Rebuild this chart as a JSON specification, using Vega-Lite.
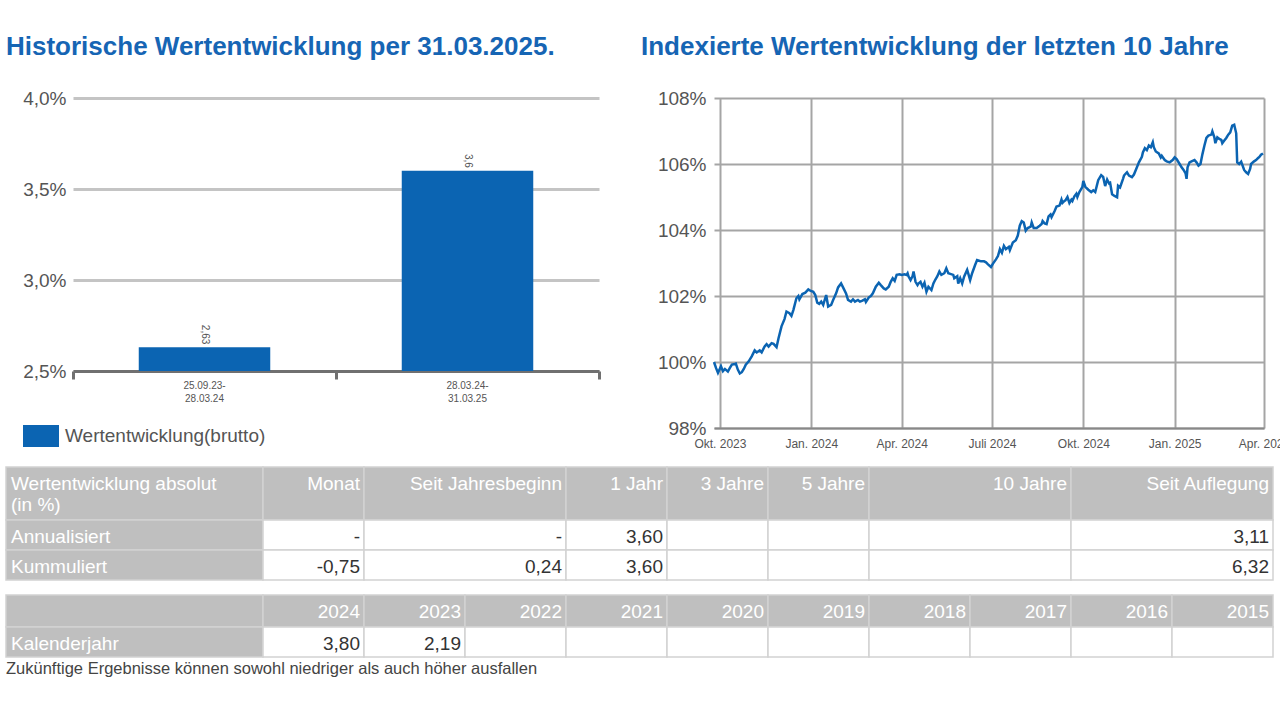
{
  "$schema": "https://vega.github.io/schema/vega-lite/v6.json",
  "background": "white",
  "padding": {"left": 5, "top": 34, "right": 0, "bottom": 0},
  "spacing": 17,
  "config": {
    "view": {"stroke": null},
    "font": "Liberation Sans",
    "locale": {
      "number": {"decimal": ",", "thousands": ".", "grouping": [3], "currency": ["", " €"]},
      "time": {
        "dateTime": "%A, der %e. %B %Y, %X", "date": "%d.%m.%Y", "time": "%H:%M:%S", "periods": ["AM", "PM"],
        "days": ["Sonntag", "Montag", "Dienstag", "Mittwoch", "Donnerstag", "Freitag", "Samstag"],
        "shortDays": ["So", "Mo", "Di", "Mi", "Do", "Fr", "Sa"],
        "months": ["Januar", "Februar", "März", "April", "Mai", "Juni", "Juli", "August", "September", "Oktober", "November", "Dezember"],
        "shortMonths": ["Jan.", "Feb.", "März", "Apr.", "Mai", "Juni", "Juli", "Aug.", "Sep.", "Okt.", "Nov.", "Dez."]
      }
    }
  },
  "vconcat": [
    {
      "spacing": 40,
      "hconcat": [
        {
          "width": 526,
          "height": 273,
          "title": {"text": "Historische Wertentwicklung per 31.03.2025.", "anchor": "start", "frame": "group", "dx": -67, "fontSize": 26, "fontWeight": "bold", "color": "#1665b4", "baseline": "alphabetic", "offset": 8},
          "data": {"values": [
            {"zeitraum": "25.09.23-28.03.24", "wert": 2.63},
            {"zeitraum": "28.03.24-31.03.25", "wert": 3.6}
          ]},
          "layer": [
            {
              "mark": {"type": "bar", "width": {"band": 0.5}},
              "encoding": {
                "x": {"field": "zeitraum", "type": "nominal", "sort": null,
                  "scale": {"paddingInner": 0, "paddingOuter": 0},
                  "axis": {"title": null, "bandPosition": 1, "tickExtra": true, "tickSize": 8, "tickWidth": 3, "tickColor": "#707070", "domainColor": "#707070", "domainWidth": 3, "labelAngle": 0, "labelFontSize": 10, "labelColor": "#555555", "labelPadding": 1, "labelLineHeight": 13, "labelExpr": "[slice(datum.label,0,9), slice(datum.label,9)]", "grid": false}},
                "y": {"field": "wert", "type": "quantitative",
                  "scale": {"domain": [2.5, 4], "zero": false, "nice": false},
                  "axis": {"title": null, "values": [2.5, 3, 3.5, 4], "format": ".1f", "labelExpr": "datum.label + '%'", "domain": false, "ticks": false, "grid": true, "gridColor": "#c4c4c4", "gridWidth": 3, "labelFontSize": 19, "labelColor": "#555555", "labelPadding": 7}},
                "y2": {"datum": 2.5},
                "color": {"datum": "Wertentwicklung(brutto)", "scale": {"range": ["#0b64b2"]},
                  "legend": {"orient": "none", "legendX": -50, "legendY": 320, "title": null, "padding": 0, "symbolType": "M-1,-0.61H1V0.61H-1Z", "symbolSize": 1296, "symbolStrokeWidth": 0, "symbolOpacity": 1, "labelFontSize": 19, "labelColor": "#555555", "labelOffset": 6, "labelLimit": 400}}
              }
            },
            {
              "mark": {"type": "text", "angle": 90, "align": "right", "baseline": "middle", "dx": -3, "fontSize": 10, "color": "#555555"},
              "encoding": {
                "x": {"field": "zeitraum", "type": "nominal", "sort": null},
                "y": {"field": "wert", "type": "quantitative"},
                "text": {"field": "wert", "type": "quantitative", "format": "~g"}
              }
            }
          ]
        },
        {
          "width": 550,
          "height": 330,
          "title": {"text": "Indexierte Wertentwicklung der letzten 10 Jahre", "anchor": "start", "frame": "group", "dx": -73, "fontSize": 26, "fontWeight": "bold", "color": "#1665b4", "baseline": "alphabetic", "offset": 8},
          "data": {"values": [
            {"tag": "2023-09-25", "wert": 100.00}, {"tag": "2023-09-27", "wert": 99.82}, {"tag": "2023-09-29", "wert": 99.67},
            {"tag": "2023-10-02", "wert": 99.87}, {"tag": "2023-10-04", "wert": 99.72}, {"tag": "2023-10-06", "wert": 99.79},
            {"tag": "2023-10-09", "wert": 99.71}, {"tag": "2023-10-11", "wert": 99.82}, {"tag": "2023-10-13", "wert": 99.92},
            {"tag": "2023-10-16", "wert": 99.94}, {"tag": "2023-10-17", "wert": 99.95}, {"tag": "2023-10-19", "wert": 99.77},
            {"tag": "2023-10-21", "wert": 99.65}, {"tag": "2023-10-23", "wert": 99.69}, {"tag": "2023-10-25", "wert": 99.79},
            {"tag": "2023-10-27", "wert": 99.92}, {"tag": "2023-10-30", "wert": 100.02}, {"tag": "2023-11-02", "wert": 100.17},
            {"tag": "2023-11-05", "wert": 100.35}, {"tag": "2023-11-07", "wert": 100.29}, {"tag": "2023-11-10", "wert": 100.35},
            {"tag": "2023-11-12", "wert": 100.29}, {"tag": "2023-11-15", "wert": 100.47}, {"tag": "2023-11-17", "wert": 100.54},
            {"tag": "2023-11-19", "wert": 100.47}, {"tag": "2023-11-22", "wert": 100.57}, {"tag": "2023-11-24", "wert": 100.55},
            {"tag": "2023-11-27", "wert": 100.45}, {"tag": "2023-11-29", "wert": 100.72}, {"tag": "2023-12-02", "wert": 101.08},
            {"tag": "2023-12-05", "wert": 101.30}, {"tag": "2023-12-07", "wert": 101.53}, {"tag": "2023-12-10", "wert": 101.48},
            {"tag": "2023-12-12", "wert": 101.40}, {"tag": "2023-12-14", "wert": 101.58}, {"tag": "2023-12-17", "wert": 101.93},
            {"tag": "2023-12-19", "wert": 102.00}, {"tag": "2023-12-20", "wert": 101.90}, {"tag": "2023-12-23", "wert": 102.06},
            {"tag": "2023-12-26", "wert": 102.10}, {"tag": "2023-12-29", "wert": 102.20}, {"tag": "2023-12-31", "wert": 102.16},
            {"tag": "2024-01-03", "wert": 102.13}, {"tag": "2024-01-05", "wert": 102.03}, {"tag": "2024-01-07", "wert": 101.80},
            {"tag": "2024-01-09", "wert": 101.76}, {"tag": "2024-01-11", "wert": 101.83}, {"tag": "2024-01-13", "wert": 101.73},
            {"tag": "2024-01-16", "wert": 102.03}, {"tag": "2024-01-18", "wert": 101.68}, {"tag": "2024-01-21", "wert": 101.73},
            {"tag": "2024-01-23", "wert": 101.88}, {"tag": "2024-01-26", "wert": 102.08}, {"tag": "2024-01-28", "wert": 102.26},
            {"tag": "2024-01-31", "wert": 102.38}, {"tag": "2024-02-02", "wert": 102.26}, {"tag": "2024-02-05", "wert": 102.08},
            {"tag": "2024-02-07", "wert": 101.88}, {"tag": "2024-02-10", "wert": 101.83}, {"tag": "2024-02-12", "wert": 101.90},
            {"tag": "2024-02-14", "wert": 101.83}, {"tag": "2024-02-17", "wert": 101.88}, {"tag": "2024-02-19", "wert": 101.83},
            {"tag": "2024-02-21", "wert": 101.85}, {"tag": "2024-02-24", "wert": 101.90}, {"tag": "2024-02-25", "wert": 101.82},
            {"tag": "2024-02-28", "wert": 101.96}, {"tag": "2024-03-01", "wert": 102.00}, {"tag": "2024-03-03", "wert": 102.08},
            {"tag": "2024-03-06", "wert": 102.28}, {"tag": "2024-03-09", "wert": 102.40}, {"tag": "2024-03-11", "wert": 102.33},
            {"tag": "2024-03-14", "wert": 102.23}, {"tag": "2024-03-16", "wert": 102.20}, {"tag": "2024-03-19", "wert": 102.28},
            {"tag": "2024-03-21", "wert": 102.43}, {"tag": "2024-03-23", "wert": 102.54}, {"tag": "2024-03-25", "wert": 102.46},
            {"tag": "2024-03-27", "wert": 102.64}, {"tag": "2024-03-30", "wert": 102.66}, {"tag": "2024-04-01", "wert": 102.64},
            {"tag": "2024-04-04", "wert": 102.66}, {"tag": "2024-04-06", "wert": 102.64}, {"tag": "2024-04-07", "wert": 102.69},
            {"tag": "2024-04-08", "wert": 102.59}, {"tag": "2024-04-10", "wert": 102.48}, {"tag": "2024-04-12", "wert": 102.60},
            {"tag": "2024-04-13", "wert": 102.74}, {"tag": "2024-04-15", "wert": 102.43}, {"tag": "2024-04-17", "wert": 102.33},
            {"tag": "2024-04-18", "wert": 102.38}, {"tag": "2024-04-20", "wert": 102.43}, {"tag": "2024-04-22", "wert": 102.28},
            {"tag": "2024-04-24", "wert": 102.40}, {"tag": "2024-04-26", "wert": 102.13}, {"tag": "2024-04-28", "wert": 102.28},
            {"tag": "2024-05-01", "wert": 102.18}, {"tag": "2024-05-03", "wert": 102.38}, {"tag": "2024-05-05", "wert": 102.50},
            {"tag": "2024-05-07", "wert": 102.60}, {"tag": "2024-05-09", "wert": 102.74}, {"tag": "2024-05-11", "wert": 102.64},
            {"tag": "2024-05-14", "wert": 102.69}, {"tag": "2024-05-16", "wert": 102.84}, {"tag": "2024-05-18", "wert": 102.69},
            {"tag": "2024-05-20", "wert": 102.67}, {"tag": "2024-05-23", "wert": 102.64}, {"tag": "2024-05-24", "wert": 102.54},
            {"tag": "2024-05-27", "wert": 102.60}, {"tag": "2024-05-28", "wert": 102.38}, {"tag": "2024-05-30", "wert": 102.54},
            {"tag": "2024-06-01", "wert": 102.38}, {"tag": "2024-06-03", "wert": 102.59}, {"tag": "2024-06-06", "wert": 102.79},
            {"tag": "2024-06-07", "wert": 102.69}, {"tag": "2024-06-09", "wert": 102.48}, {"tag": "2024-06-11", "wert": 102.69},
            {"tag": "2024-06-14", "wert": 102.94}, {"tag": "2024-06-16", "wert": 103.09}, {"tag": "2024-06-18", "wert": 103.07},
            {"tag": "2024-06-20", "wert": 103.05}, {"tag": "2024-06-23", "wert": 103.05}, {"tag": "2024-06-25", "wert": 103.02},
            {"tag": "2024-06-27", "wert": 102.96}, {"tag": "2024-06-30", "wert": 102.88}, {"tag": "2024-07-02", "wert": 102.98},
            {"tag": "2024-07-05", "wert": 103.11}, {"tag": "2024-07-07", "wert": 103.21}, {"tag": "2024-07-09", "wert": 103.42},
            {"tag": "2024-07-11", "wert": 103.31}, {"tag": "2024-07-13", "wert": 103.52}, {"tag": "2024-07-15", "wert": 103.42},
            {"tag": "2024-07-18", "wert": 103.49}, {"tag": "2024-07-19", "wert": 103.39}, {"tag": "2024-07-22", "wert": 103.62},
            {"tag": "2024-07-25", "wert": 103.69}, {"tag": "2024-07-27", "wert": 103.83}, {"tag": "2024-07-29", "wert": 104.13},
            {"tag": "2024-07-31", "wert": 104.27}, {"tag": "2024-08-02", "wert": 104.23}, {"tag": "2024-08-04", "wert": 103.98},
            {"tag": "2024-08-06", "wert": 104.06}, {"tag": "2024-08-09", "wert": 104.10}, {"tag": "2024-08-10", "wert": 104.23},
            {"tag": "2024-08-12", "wert": 104.06}, {"tag": "2024-08-15", "wert": 104.06}, {"tag": "2024-08-18", "wert": 104.13},
            {"tag": "2024-08-20", "wert": 104.18}, {"tag": "2024-08-21", "wert": 104.27}, {"tag": "2024-08-23", "wert": 104.20},
            {"tag": "2024-08-25", "wert": 104.18}, {"tag": "2024-08-27", "wert": 104.41}, {"tag": "2024-08-29", "wert": 104.47},
            {"tag": "2024-08-30", "wert": 104.39}, {"tag": "2024-09-02", "wert": 104.57}, {"tag": "2024-09-04", "wert": 104.71},
            {"tag": "2024-09-07", "wert": 104.74}, {"tag": "2024-09-09", "wert": 104.92}, {"tag": "2024-09-10", "wert": 104.82},
            {"tag": "2024-09-12", "wert": 104.88}, {"tag": "2024-09-13", "wert": 104.90}, {"tag": "2024-09-15", "wert": 105.00},
            {"tag": "2024-09-17", "wert": 104.82}, {"tag": "2024-09-19", "wert": 104.92}, {"tag": "2024-09-20", "wert": 104.88},
            {"tag": "2024-09-22", "wert": 105.02}, {"tag": "2024-09-24", "wert": 105.10}, {"tag": "2024-09-25", "wert": 105.00},
            {"tag": "2024-09-27", "wert": 105.15}, {"tag": "2024-09-30", "wert": 105.30}, {"tag": "2024-10-01", "wert": 105.49},
            {"tag": "2024-10-03", "wert": 105.31}, {"tag": "2024-10-06", "wert": 105.22}, {"tag": "2024-10-09", "wert": 105.15},
            {"tag": "2024-10-11", "wert": 105.20}, {"tag": "2024-10-13", "wert": 105.15}, {"tag": "2024-10-16", "wert": 105.51},
            {"tag": "2024-10-19", "wert": 105.66}, {"tag": "2024-10-21", "wert": 105.61}, {"tag": "2024-10-23", "wert": 105.33},
            {"tag": "2024-10-25", "wert": 105.53}, {"tag": "2024-10-27", "wert": 105.41}, {"tag": "2024-10-28", "wert": 105.43},
            {"tag": "2024-10-30", "wert": 105.08}, {"tag": "2024-11-01", "wert": 105.04}, {"tag": "2024-11-04", "wert": 104.99},
            {"tag": "2024-11-05", "wert": 105.34}, {"tag": "2024-11-07", "wert": 105.29}, {"tag": "2024-11-10", "wert": 105.55},
            {"tag": "2024-11-11", "wert": 105.65}, {"tag": "2024-11-13", "wert": 105.72}, {"tag": "2024-11-14", "wert": 105.75},
            {"tag": "2024-11-16", "wert": 105.65}, {"tag": "2024-11-19", "wert": 105.60}, {"tag": "2024-11-21", "wert": 105.68},
            {"tag": "2024-11-24", "wert": 105.90}, {"tag": "2024-11-26", "wert": 106.05}, {"tag": "2024-11-29", "wert": 106.22},
            {"tag": "2024-11-30", "wert": 106.35}, {"tag": "2024-12-02", "wert": 106.48}, {"tag": "2024-12-04", "wert": 106.42},
            {"tag": "2024-12-06", "wert": 106.56}, {"tag": "2024-12-08", "wert": 106.51}, {"tag": "2024-12-10", "wert": 106.66},
            {"tag": "2024-12-11", "wert": 106.51}, {"tag": "2024-12-13", "wert": 106.38}, {"tag": "2024-12-16", "wert": 106.32},
            {"tag": "2024-12-18", "wert": 106.20}, {"tag": "2024-12-19", "wert": 106.25}, {"tag": "2024-12-22", "wert": 106.12},
            {"tag": "2024-12-24", "wert": 106.08}, {"tag": "2024-12-27", "wert": 106.05}, {"tag": "2024-12-30", "wert": 106.12},
            {"tag": "2025-01-01", "wert": 106.20}, {"tag": "2025-01-03", "wert": 106.15}, {"tag": "2025-01-06", "wert": 106.00},
            {"tag": "2025-01-08", "wert": 105.90}, {"tag": "2025-01-10", "wert": 105.82}, {"tag": "2025-01-12", "wert": 105.72},
            {"tag": "2025-01-13", "wert": 105.55}, {"tag": "2025-01-14", "wert": 105.90}, {"tag": "2025-01-16", "wert": 106.05},
            {"tag": "2025-01-18", "wert": 106.08}, {"tag": "2025-01-21", "wert": 106.12}, {"tag": "2025-01-23", "wert": 106.05},
            {"tag": "2025-01-25", "wert": 105.95}, {"tag": "2025-01-27", "wert": 106.00}, {"tag": "2025-01-29", "wert": 106.30},
            {"tag": "2025-01-31", "wert": 106.56}, {"tag": "2025-02-02", "wert": 106.79}, {"tag": "2025-02-04", "wert": 106.86},
            {"tag": "2025-02-07", "wert": 106.89}, {"tag": "2025-02-08", "wert": 106.99}, {"tag": "2025-02-10", "wert": 106.81},
            {"tag": "2025-02-11", "wert": 106.63}, {"tag": "2025-02-13", "wert": 106.81}, {"tag": "2025-02-15", "wert": 106.76},
            {"tag": "2025-02-17", "wert": 106.73}, {"tag": "2025-02-18", "wert": 106.63}, {"tag": "2025-02-20", "wert": 106.71},
            {"tag": "2025-02-22", "wert": 106.79}, {"tag": "2025-02-24", "wert": 106.89}, {"tag": "2025-02-26", "wert": 106.96},
            {"tag": "2025-02-28", "wert": 107.16}, {"tag": "2025-03-02", "wert": 107.19}, {"tag": "2025-03-04", "wert": 106.93},
            {"tag": "2025-03-05", "wert": 106.05}, {"tag": "2025-03-07", "wert": 106.00}, {"tag": "2025-03-09", "wert": 106.07},
            {"tag": "2025-03-12", "wert": 105.82}, {"tag": "2025-03-14", "wert": 105.75}, {"tag": "2025-03-16", "wert": 105.70},
            {"tag": "2025-03-18", "wert": 105.85}, {"tag": "2025-03-19", "wert": 106.00}, {"tag": "2025-03-22", "wert": 106.08},
            {"tag": "2025-03-24", "wert": 106.12}, {"tag": "2025-03-26", "wert": 106.18}, {"tag": "2025-03-27", "wert": 106.20},
            {"tag": "2025-03-29", "wert": 106.28}, {"tag": "2025-03-31", "wert": 106.32}
          ]},
          "mark": {"type": "line", "color": "#0b64b2", "strokeWidth": 2.5},
          "encoding": {
            "x": {"field": "tag", "type": "temporal",
              "scale": {"domain": [{"year": 2023, "month": 9, "date": 25}, {"year": 2025, "month": 4, "date": 1}]},
              "axis": {"title": null, "values": [{"year": 2023, "month": 10, "date": 1}, {"year": 2024, "month": 1, "date": 1}, {"year": 2024, "month": 4, "date": 1}, {"year": 2024, "month": 7, "date": 1}, {"year": 2024, "month": 10, "date": 1}, {"year": 2025, "month": 1, "date": 1}, {"year": 2025, "month": 4, "date": 1}],
                "format": "%b %Y", "grid": true, "gridColor": "#a5a5a5", "gridWidth": 2, "ticks": false, "domainColor": "#888888", "domainWidth": 2, "labelFontSize": 12, "labelColor": "#555555", "labelPadding": 10, "labelFlush": false, "labelOverlap": false}},
            "y": {"field": "wert", "type": "quantitative",
              "scale": {"domain": [98, 108], "nice": false, "zero": false},
              "axis": {"title": null, "values": [98, 100, 102, 104, 106, 108], "labelExpr": "datum.value + '%'", "grid": true, "gridColor": "#a5a5a5", "gridWidth": 2, "domain": false, "ticks": false, "labelFontSize": 19, "labelColor": "#555555", "labelPadding": 8}}
          }
        }
      ]
    },
    {
      "width": 1200,
      "height": 190,
      "title": {"text": "Zukünftige Ergebnisse können sowohl niedriger als auch höher ausfallen", "orient": "bottom", "anchor": "start", "frame": "group", "dx": -67, "fontSize": 16.5, "fontWeight": "normal", "color": "#444444", "offset": 3},
      "data": {"values": [
        {"r0": 0, "r1": 1, "c0": 0, "c1": 1, "k": "h", "t": ["Wertentwicklung absolut", "(in %)"]},
        {"r0": 0, "r1": 1, "c0": 1, "c1": 2, "k": "h", "t": "Monat"},
        {"r0": 0, "r1": 1, "c0": 2, "c1": 4, "k": "h", "t": "Seit Jahresbeginn"},
        {"r0": 0, "r1": 1, "c0": 4, "c1": 5, "k": "h", "t": "1 Jahr"},
        {"r0": 0, "r1": 1, "c0": 5, "c1": 6, "k": "h", "t": "3 Jahre"},
        {"r0": 0, "r1": 1, "c0": 6, "c1": 7, "k": "h", "t": "5 Jahre"},
        {"r0": 0, "r1": 1, "c0": 7, "c1": 9, "k": "h", "t": "10 Jahre"},
        {"r0": 0, "r1": 1, "c0": 9, "c1": 11, "k": "h", "t": "Seit Auflegung"},
        {"r0": 1, "r1": 2, "c0": 0, "c1": 1, "k": "l", "t": "Annualisiert"},
        {"r0": 1, "r1": 2, "c0": 1, "c1": 2, "k": "v", "t": "-"},
        {"r0": 1, "r1": 2, "c0": 2, "c1": 4, "k": "v", "t": "-"},
        {"r0": 1, "r1": 2, "c0": 4, "c1": 5, "k": "v", "t": "3,60"},
        {"r0": 1, "r1": 2, "c0": 5, "c1": 6, "k": "v", "t": ""},
        {"r0": 1, "r1": 2, "c0": 6, "c1": 7, "k": "v", "t": ""},
        {"r0": 1, "r1": 2, "c0": 7, "c1": 9, "k": "v", "t": ""},
        {"r0": 1, "r1": 2, "c0": 9, "c1": 11, "k": "v", "t": "3,11"},
        {"r0": 2, "r1": 3, "c0": 0, "c1": 1, "k": "l", "t": "Kummuliert"},
        {"r0": 2, "r1": 3, "c0": 1, "c1": 2, "k": "v", "t": "-0,75"},
        {"r0": 2, "r1": 3, "c0": 2, "c1": 4, "k": "v", "t": "0,24"},
        {"r0": 2, "r1": 3, "c0": 4, "c1": 5, "k": "v", "t": "3,60"},
        {"r0": 2, "r1": 3, "c0": 5, "c1": 6, "k": "v", "t": ""},
        {"r0": 2, "r1": 3, "c0": 6, "c1": 7, "k": "v", "t": ""},
        {"r0": 2, "r1": 3, "c0": 7, "c1": 9, "k": "v", "t": ""},
        {"r0": 2, "r1": 3, "c0": 9, "c1": 11, "k": "v", "t": "6,32"},
        {"r0": 4, "r1": 5, "c0": 0, "c1": 1, "k": "h", "t": ""},
        {"r0": 4, "r1": 5, "c0": 1, "c1": 2, "k": "h", "t": "2024"},
        {"r0": 4, "r1": 5, "c0": 2, "c1": 3, "k": "h", "t": "2023"},
        {"r0": 4, "r1": 5, "c0": 3, "c1": 4, "k": "h", "t": "2022"},
        {"r0": 4, "r1": 5, "c0": 4, "c1": 5, "k": "h", "t": "2021"},
        {"r0": 4, "r1": 5, "c0": 5, "c1": 6, "k": "h", "t": "2020"},
        {"r0": 4, "r1": 5, "c0": 6, "c1": 7, "k": "h", "t": "2019"},
        {"r0": 4, "r1": 5, "c0": 7, "c1": 8, "k": "h", "t": "2018"},
        {"r0": 4, "r1": 5, "c0": 8, "c1": 9, "k": "h", "t": "2017"},
        {"r0": 4, "r1": 5, "c0": 9, "c1": 10, "k": "h", "t": "2016"},
        {"r0": 4, "r1": 5, "c0": 10, "c1": 11, "k": "h", "t": "2015"},
        {"r0": 5, "r1": 6, "c0": 0, "c1": 1, "k": "l", "t": "Kalenderjahr"},
        {"r0": 5, "r1": 6, "c0": 1, "c1": 2, "k": "v", "t": "3,80"},
        {"r0": 5, "r1": 6, "c0": 2, "c1": 3, "k": "v", "t": "2,19"},
        {"r0": 5, "r1": 6, "c0": 3, "c1": 4, "k": "v", "t": ""},
        {"r0": 5, "r1": 6, "c0": 4, "c1": 5, "k": "v", "t": ""},
        {"r0": 5, "r1": 6, "c0": 5, "c1": 6, "k": "v", "t": ""},
        {"r0": 5, "r1": 6, "c0": 6, "c1": 7, "k": "v", "t": ""},
        {"r0": 5, "r1": 6, "c0": 7, "c1": 8, "k": "v", "t": ""},
        {"r0": 5, "r1": 6, "c0": 8, "c1": 9, "k": "v", "t": ""},
        {"r0": 5, "r1": 6, "c0": 9, "c1": 10, "k": "v", "t": ""},
        {"r0": 5, "r1": 6, "c0": 10, "c1": 11, "k": "v", "t": ""}
      ]},
      "layer": [
        {
          "mark": {"type": "rect", "stroke": "#d2d2d2", "strokeWidth": 1.5},
          "encoding": {
            "x": {"field": "c0", "type": "quantitative", "scale": {"domain": [0, 1, 11], "range": [-67, 190, 1200], "nice": false, "zero": false}, "axis": null},
            "x2": {"field": "c1"},
            "y": {"field": "r0", "type": "quantitative", "scale": {"domain": [0, 1, 3, 4, 5, 6], "range": [0, 53, 113, 128, 160, 190], "nice": false, "zero": false}, "axis": null},
            "y2": {"field": "r1"},
            "fill": {"condition": {"test": "datum.k == 'v'", "value": "#ffffff"}, "value": "#bfbfbf"}
          }
        },
        {
          "transform": [{"filter": "datum.c0 == 0"}],
          "mark": {"type": "text", "align": "left", "baseline": "top", "dx": 5, "dy": 8, "fontSize": 19, "lineHeight": 21, "color": "#ffffff"},
          "encoding": {
            "x": {"field": "c0", "type": "quantitative"},
            "y": {"field": "r0", "type": "quantitative"},
            "text": {"field": "t", "type": "nominal"}
          }
        },
        {
          "transform": [{"filter": "datum.c0 > 0"}],
          "mark": {"type": "text", "align": "right", "baseline": "top", "dx": -4, "dy": 8, "fontSize": 19},
          "encoding": {
            "x": {"field": "c1", "type": "quantitative"},
            "y": {"field": "r0", "type": "quantitative"},
            "text": {"field": "t", "type": "nominal"},
            "color": {"condition": {"test": "datum.k == 'v'", "value": "#333333"}, "value": "#ffffff"}
          }
        }
      ]
    }
  ]
}
